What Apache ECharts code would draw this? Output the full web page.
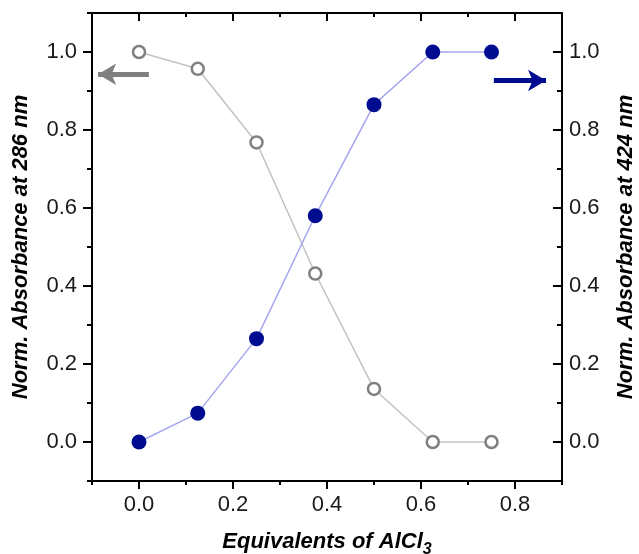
<!DOCTYPE html>
<html>
<head>
<meta charset="utf-8">
<script src="https://cdn.jsdelivr.net/npm/echarts@6.0.0/dist/echarts.min.js"></script>
<style>html,body{margin:0;padding:0;background:#fff}#c{width:639px;height:554px}</style>
</head>
<body>
<div id="c"></div>
<script>
var equivalents = [0, 0.125, 0.25, 0.375, 0.5, 0.625, 0.75];
var abs286 = [1.0, 0.957, 0.768, 0.432, 0.136, 0.0, 0.0];
var abs424 = [0.0, 0.074, 0.265, 0.58, 0.865, 1.0, 1.0];
var xTicks = [0, 0.2, 0.4, 0.6, 0.8];
var yTicks = [0, 0.2, 0.4, 0.6, 0.8, 1.0];
var arrow286 = [[-0.087, 0.943], [0.021, 0.943]];
var arrow424 = [[0.755, 0.927], [0.866, 0.927]];

var FONT = 'Liberation Sans, Arial, sans-serif';
var chart = echarts.init(document.getElementById('c'));
var line = {show: true, onZero: false, lineStyle: {color: '#000', width: 2}};
function mainX(pos, inside, labels) {
  return {type: 'value', position: pos, min: -0.1, max: 0.9, axisLine: line,
    splitLine: {show: false},
    axisTick: {show: true, inside: inside, length: 8, customValues: xTicks, lineStyle: {color: '#000', width: 2}},
    axisLabel: {show: labels, customValues: xTicks, margin: 13, fontFamily: FONT, fontSize: 22, color: '#1a1a1a',
      formatter: function (v) { return v.toFixed(1); }}};
}
function minorX(pos, inside) {
  return {type: 'value', position: pos, min: -0.1, max: 0.9, interval: 0.1,
    axisLine: {show: false, onZero: false}, splitLine: {show: false}, axisLabel: {show: false},
    axisTick: {show: true, inside: inside, length: 4, lineStyle: {color: '#000', width: 2}}};
}
function mainY(pos, inside, margin) {
  return {type: 'value', position: pos, min: -0.1, max: 1.1, axisLine: line,
    splitLine: {show: false},
    axisTick: {show: true, inside: inside, length: 9, customValues: yTicks, lineStyle: {color: '#000', width: 2}},
    axisLabel: {show: true, customValues: yTicks, margin: margin, fontFamily: FONT, fontSize: 22, color: '#1a1a1a',
      formatter: function (v) { return v.toFixed(1); }}};
}
function minorY(pos, inside) {
  return {type: 'value', position: pos, min: -0.1, max: 1.1, interval: 0.1,
    axisLine: {show: false, onZero: false}, splitLine: {show: false}, axisLabel: {show: false},
    axisTick: {show: true, inside: inside, length: 5, lineStyle: {color: '#000', width: 2}}};
}
var xb = mainX('bottom', false, true);
xb.name = '{t|Equivalents of AlCl}{s|3}';
xb.nameLocation = 'middle';
xb.nameGap = 45;
xb.nameTextStyle = {rich: {
  t: {fontFamily: FONT, fontSize: 22, fontWeight: 'bold', fontStyle: 'italic', color: '#000'},
  s: {fontFamily: FONT, fontSize: 16, fontWeight: 'bold', fontStyle: 'italic', color: '#000', verticalAlign: 'bottom', padding: [16, 0, 0, 0]}
}};
var yl = mainY('left', false, 15);
yl.name = 'Norm. Absorbance at 286 nm';
yl.nameLocation = 'middle';
yl.nameGap = 60;
yl.nameTextStyle = {fontFamily: FONT, fontSize: 22, fontWeight: 'bold', fontStyle: 'italic', color: '#000'};
var yr = mainY('right', true, 7);
yr.name = 'Norm. Absorbance at 424 nm';
yr.nameLocation = 'middle';
yr.nameGap = 53;
yr.nameTextStyle = {fontFamily: FONT, fontSize: 22, fontWeight: 'bold', fontStyle: 'italic', color: '#000'};

chart.setOption({
  animation: false,
  backgroundColor: '#fff',
  grid: {left: 92, right: 77, top: 13, bottom: 73, outerBoundsMode: 'none', containLabel: false},
  xAxis: [xb, minorX('bottom', false), mainX('top', true, false), minorX('top', true)],
  yAxis: [yl, minorY('left', false), yr, minorY('right', true)],
  series: [
    {type: 'line', xAxisIndex: 0, yAxisIndex: 0,
      data: equivalents.map(function (x, i) { return [x, abs286[i]]; }),
      symbol: 'circle', symbolSize: 12,
      lineStyle: {color: '#c2c2c2', width: 1.5},
      itemStyle: {color: '#fff', borderColor: '#808080', borderWidth: 2.5},
      markLine: {silent: true, symbol: ['arrow', 'none'], symbolSize: [16, 18], label: {show: false},
        lineStyle: {color: '#808080', width: 5, type: 'solid'},
        data: [[{coord: arrow286[0]}, {coord: arrow286[1]}]]},
      z: 3},
    {type: 'line', xAxisIndex: 0, yAxisIndex: 2,
      data: equivalents.map(function (x, i) { return [x, abs424[i]]; }),
      symbol: 'circle', symbolSize: 15,
      lineStyle: {color: '#a6a6f0', width: 1.5},
      itemStyle: {color: '#000c8f', borderWidth: 0},
      markLine: {silent: true, symbol: ['none', 'arrow'], symbolSize: [16, 18], label: {show: false},
        lineStyle: {color: '#000c8f', width: 5, type: 'solid'},
        data: [[{coord: arrow424[0]}, {coord: arrow424[1]}]]},
      z: 4}
  ]
});
</script>
</body>
</html>
